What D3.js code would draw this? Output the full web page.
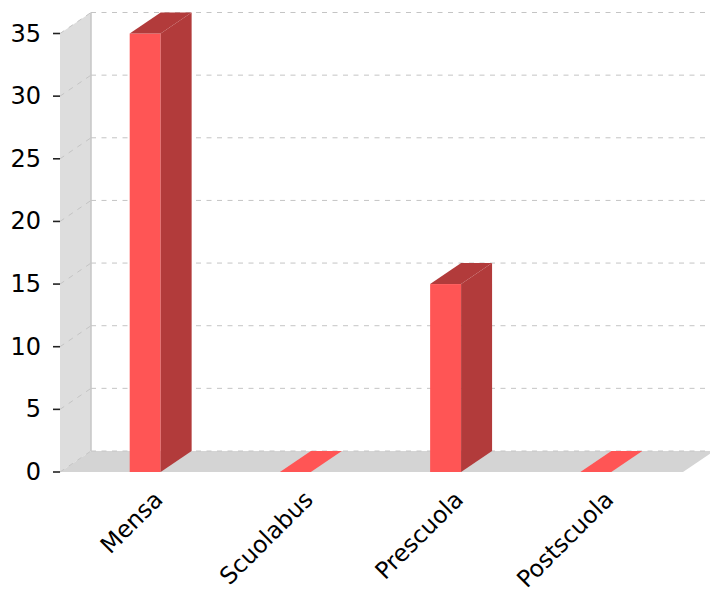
<!DOCTYPE html>
<html><head><meta charset="utf-8">
<script src="https://cdn.jsdelivr.net/npm/d3@7"></script>
<style>html,body{margin:0;padding:0;background:#fff;}svg{display:block;}</style>
</head><body>
<svg id="chart" width="710" height="595"></svg>
<script>
const categories = ["Mensa", "Scuolabus", "Prescuola", "Postscuola"];
const values = [35, 0, 15, 0];
const yTicks = [0, 5, 10, 15, 20, 25, 30, 35];

(function () {
const pLeft = 60, pRight = 683, pBottom = 472, pTop = 33.5;
const dx = 31, dy = -21;

const svg = d3.select("#chart");
const y = d3.scaleLinear().domain([0, 35]).range([pBottom, pTop]);
const x = d3.scaleBand().domain(categories).range([pLeft, 681]).paddingInner(0.794).paddingOuter(0.464);
const bw = x.bandwidth();

const poly = pts => pts.map(p => p.join(",")).join(" ");

// left wall
svg.append("polygon").attr("points", poly([[pLeft, pBottom], [pLeft + dx, pBottom + dy], [pLeft + dx, pTop + dy], [pLeft, pTop]]))
  .attr("fill", "#dddddd");
// floor
svg.append("polygon").attr("points", poly([[pLeft, pBottom], [pRight, pBottom], [pRight + dx, pBottom + dy], [pLeft + dx, pBottom + dy]]))
  .attr("fill", "#d4d4d4");

// gridlines back wall
svg.append("g").selectAll("line").data(yTicks).join("line")
  .attr("x1", pLeft + dx).attr("x2", pRight + dx)
  .attr("y1", d => y(d) + dy).attr("y2", d => y(d) + dy)
  .attr("stroke", "#c4c4c4").attr("stroke-width", 1).attr("stroke-dasharray", "5,5.5");
// gridlines left wall
svg.append("g").selectAll("line").data(yTicks).join("line")
  .attr("x1", pLeft).attr("x2", pLeft + dx)
  .attr("y1", d => y(d)).attr("y2", d => y(d) + dy)
  .attr("stroke", "#c4c4c4").attr("stroke-width", 1).attr("stroke-dasharray", "5,5.5");
// back-wall left edge
svg.append("line").attr("x1", pLeft + dx).attr("x2", pLeft + dx).attr("y1", pTop + dy).attr("y2", pBottom + dy)
  .attr("stroke", "#c6c6c6").attr("stroke-width", 1.5);

// bars
const front = "#ff5555", dark = "#b23b3b";
const bars = svg.append("g");
categories.forEach((c, i) => {
  const v = values[i];
  const x0 = x(c), yv = y(v);
  if (v > 0) {
    bars.append("rect").attr("x", x0).attr("y", yv).attr("width", bw).attr("height", pBottom - yv).attr("fill", front);
    bars.append("polygon").attr("points", poly([[x0, yv], [x0 + bw, yv], [x0 + bw + dx, yv + dy], [x0 + dx, yv + dy]])).attr("fill", dark);
    bars.append("polygon").attr("points", poly([[x0 + bw, yv], [x0 + bw + dx, yv + dy], [x0 + bw + dx, pBottom + dy], [x0 + bw, pBottom]])).attr("fill", dark);
  } else {
    bars.append("polygon").attr("points", poly([[x0, yv], [x0 + bw, yv], [x0 + bw + dx, yv + dy], [x0 + dx, yv + dy]])).attr("fill", front);
  }
});

// y axis ticks + labels
const ya = svg.append("g");
ya.selectAll("line").data(yTicks).join("line")
  .attr("x1", 53).attr("x2", 60).attr("y1", d => y(d)).attr("y2", d => y(d))
  .attr("stroke", "#222").attr("stroke-width", 1.6);
ya.selectAll("text").data(yTicks).join("text")
  .attr("x", 41).attr("y", d => y(d)).attr("text-anchor", "end").attr("dominant-baseline", "central")
  .attr("font-family", "DejaVu Sans").attr("font-size", 24).attr("fill", "#000").text(d => d);

// x labels
svg.append("g").selectAll("text").data(categories).join("text")
  .attr("transform", d => `translate(${x(d) + bw / 2 + 19},501) rotate(-45)`)
  .attr("text-anchor", "end")
  .attr("font-family", "DejaVu Sans").attr("font-size", 23.5).attr("fill", "#000").text(d => d);
})();
</script>
</body></html>
